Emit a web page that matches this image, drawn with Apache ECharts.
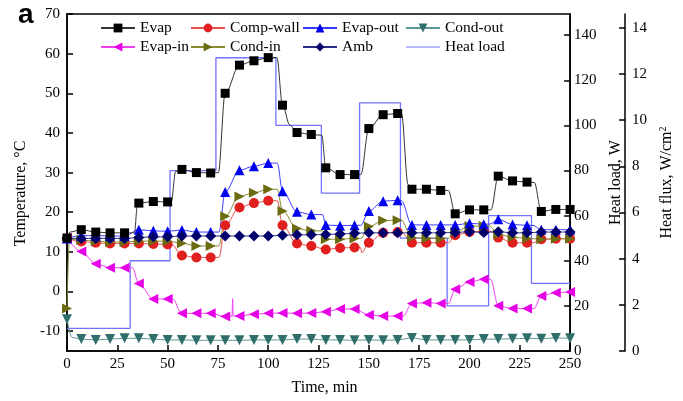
<!DOCTYPE html>
<html><head><meta charset="utf-8">
<script src="https://cdn.jsdelivr.net/npm/echarts@6/dist/echarts.min.js"></script>
<style>html,body{margin:0;padding:0;background:#fff}#c{width:683px;height:401px}</style>
</head><body><div id="c"></div><script>
// marker times (min)
const markT = [0, 7.1, 14.3, 21.4, 28.6, 35.7, 42.9, 50, 57.1, 64.3, 71.4, 78.6, 85.7, 92.9, 100, 107.1, 114.3, 121.4, 128.6, 135.7, 142.9, 150, 157.1, 164.3, 171.4, 178.6, 185.7, 192.9, 200, 207.1, 214.3, 221.4, 228.6, 235.7, 242.9, 250];
// temperatures at marker times (°C)
const evap     = [13.5, 15.6, 15.0, 14.8, 14.8, 22.3, 22.7, 22.6, 30.8, 30.0, 29.9, 50.0, 57.1, 58.2, 59.0, 47.0, 40.1, 39.6, 31.2, 29.5, 29.5, 41.1, 44.6, 44.9, 25.8, 25.8, 25.5, 19.6, 20.6, 20.6, 29.1, 27.9, 27.6, 20.2, 20.7, 20.7];
const compWall = [13.4, 12.6, 12.3, 12.1, 12.1, 12.1, 12.0, 11.9, 9.1, 8.6, 8.6, 16.7, 21.2, 22.3, 22.9, 16.7, 12.1, 11.5, 10.6, 11.0, 11.1, 12.3, 14.8, 15.0, 12.3, 12.3, 12.3, 14.2, 15.0, 15.2, 13.6, 12.3, 12.3, 13.2, 13.3, 13.3];
const evapOut  = [13.4, 14.1, 14.1, 14.0, 14.0, 15.6, 15.3, 15.2, 15.5, 15.0, 15.0, 25.1, 30.6, 31.6, 32.4, 25.3, 20.1, 19.4, 16.8, 16.6, 16.7, 20.3, 22.8, 23.0, 16.8, 16.8, 16.8, 16.8, 17.2, 17.0, 18.2, 16.9, 16.7, 15.6, 15.6, 15.6];
const condOut  = [-7.0, -12.0, -12.2, -12.0, -11.8, -11.8, -12.0, -12.2, -12.2, -12.3, -12.3, -12.3, -12.3, -12.2, -12.2, -12.2, -12.0, -12.0, -12.2, -12.2, -12.3, -12.2, -12.3, -12.2, -11.7, -12.2, -12.2, -12.2, -12.2, -12.0, -12.0, -11.9, -11.8, -11.9, -11.7, -11.8];
const evapIn   = [13.5, 10.1, 7.0, 6.0, 6.0, 2.0, -1.9, -1.9, -5.5, -5.5, -5.5, -6.3, -6.2, -5.7, -5.5, -5.4, -5.5, -5.4, -5.1, -4.4, -4.4, -5.9, -6.2, -6.2, -3.0, -2.8, -3.0, 0.6, 2.4, 3.1, -3.6, -4.3, -4.3, -1.1, -0.3, -0.1];
const condIn   = [-4.3, 13.0, 12.7, 12.5, 12.5, 12.7, 12.7, 12.7, 12.2, 11.5, 11.5, 19.0, 24.0, 24.9, 25.8, 20.3, 15.9, 15.3, 13.2, 13.2, 13.4, 16.4, 17.9, 18.0, 13.6, 13.4, 13.4, 15.0, 16.5, 16.5, 14.4, 13.7, 13.4, 13.2, 13.3, 13.3];
const amb      = [13.4, 13.4, 13.4, 13.4, 13.4, 13.6, 13.8, 13.8, 14.0, 14.0, 14.0, 14.0, 14.0, 14.0, 14.0, 14.2, 14.3, 14.3, 14.4, 14.5, 14.7, 14.8, 14.8, 14.8, 14.8, 14.8, 14.8, 14.9, 15.1, 14.9, 15.1, 14.8, 14.8, 15.0, 15.0, 15.0];
// extra line points (no marker) read from the curves around the steps: [time, value]
const evapLine     = [[1.5,15.0],[33.5,14.8],[35,21.8],[51.8,22.6],[54,30.3],[75.2,30.0],[104.3,59.0],[110.7,42.0],[126.6,39.4],[146,29.5],[166.2,44.9],[169.5,27.0],[189.5,25.5],[210.7,20.6],[232.2,27.5]];
const compWallLine = [[52,11.9],[75.5,8.6],[104.5,22.9],[145.8,11.1],[146.5,9.8],[166,15.0],[189.5,12.3],[210.5,15.2],[231.5,12.3]];
const evapOutLine  = [[75.5,15.0],[104.5,32.4],[127,19.4],[146,16.7],[166,23.0],[210,17.0],[231.5,16.7]];
const condOutLine  = [[2.5,-11.6]];
const evapInLine   = [[32.5,6.0],[52.5,-1.9],[82.0,-6.2],[82.3,-1.8],[82.6,-6.2],[167,-6.2],[189.5,-3.0],[210.5,3.1],[232,-4.3]];
const condInLine   = [[1.2,13.2],[75.5,11.5],[104.5,25.8],[127,15.3],[146,13.4],[166,18.0],[189.5,13.4],[210,16.5]];
// heat load steps
const loadT = [0, 31.4, 51.2, 74, 103.8, 126.4, 145.4, 165.7, 188.9, 209.5, 230.8, 250];
const loadW = [10, 40, 80, 130, 100, 70, 110, 50, 20, 60, 30, 30];

const FONT = "'Liberation Serif','Times New Roman',serif";
function build(vals, extra) {
  const pts = vals.map((v, i) => ({ value: [markT[i], v] }));
  extra.forEach(p => pts.push({ value: [p[0], p[1]], symbol: 'none' }));
  pts.sort((a, b) => a.value[0] - b.value[0]);
  return pts;
}
function tser(name, vals, extra, color, lineColor, symbol, size, rot) {
  return {
    name, type: 'line', data: build(vals, extra), yAxisIndex: 0,
    smooth: 0.35, smoothMonotone: 'x', showAllSymbol: true,
    symbol, symbolSize: size, symbolRotate: rot || 0,
    itemStyle: { color, borderWidth: 0 },
    lineStyle: { color: lineColor, width: 1 },
    emphasis: { disabled: true }, animation: false
  };
}
const chart = echarts.init(document.getElementById('c'), null, { renderer: 'canvas' });
const axisCommon = {
  axisLine: { show: true, onZero: false, lineStyle: { color: '#000', width: 1.5 } },
  axisTick: { show: true, inside: true, length: 6, lineStyle: { color: '#000', width: 1.5 } },
  splitLine: { show: false },
  axisLabel: { color: '#000', fontFamily: FONT, fontSize: 15 },
  nameTextStyle: { color: '#000', fontFamily: FONT, fontSize: 16 }
};
const legendBase = {
  orient: 'vertical', top: 20, padding: 0, itemWidth: 34, itemHeight: 11, itemGap: 3,
  textStyle: { color: '#000', fontFamily: FONT, fontSize: 15.5, lineHeight: 16 },
  selectedMode: false
};
chart.setOption({
  backgroundColor: '#fff',
  animation: false,
  title: { text: 'a', left: 13, top: -4, textStyle: { fontFamily: "'Liberation Sans',Arial,sans-serif", fontWeight: 'bold', fontSize: 28, color: '#000' } },
  grid: { left: 67, right: 112, top: 14, bottom: 49, show: true, borderColor: '#000', borderWidth: 1.5, backgroundColor: 'transparent' },
  legend: [
    Object.assign({}, legendBase, { left: 100, data: ['Evap', 'Evap-in'] }),
    Object.assign({}, legendBase, { left: 190, data: ['Comp-wall', 'Cond-in'] }),
    Object.assign({}, legendBase, { left: 302, data: ['Evap-out', 'Amb'] }),
    Object.assign({}, legendBase, { left: 405, data: ['Cond-out', { name: 'Heat load', icon: 'path://M0,0H40V1.1H0Z' }] })
  ],
  xAxis: Object.assign({}, axisCommon, {
    type: 'value', min: 0, max: 250, interval: 25,
    name: 'Time, min', nameLocation: 'middle', nameGap: 29,
    nameTextStyle: { color: '#000', fontFamily: FONT, fontSize: 16, padding: [0, 0, 0, 12] },
    axisLabel: Object.assign({}, axisCommon.axisLabel, { margin: 6 })
  }),
  yAxis: [
    Object.assign({}, axisCommon, {
      type: 'value', min: -15, max: 70, splitNumber: 8, position: 'left',
      name: 'Temperature, °C', nameLocation: 'middle', nameGap: 37, nameRotate: 90,
      nameTextStyle: { color: '#000', fontFamily: FONT, fontSize: 16, padding: [0, 22, 0, 0] },
      axisLabel: Object.assign({}, axisCommon.axisLabel, { margin: 7, showMinLabel: false })
    }),
    Object.assign({}, axisCommon, {
      type: 'value', min: 0, max: 149.4, interval: 20, position: 'right',
      name: 'Heat load, W', nameLocation: 'middle', nameGap: 30, nameRotate: 90,
      axisLabel: Object.assign({}, axisCommon.axisLabel, { margin: 4, showMaxLabel: false })
    }),
    Object.assign({}, axisCommon, {
      type: 'value', min: 0, max: 14.6, interval: 2, position: 'right', offset: 55,
      name: 'Heat flux, W/cm{s|2}', nameLocation: 'middle', nameGap: 25, nameRotate: 90,
      nameTextStyle: { color: '#000', fontFamily: FONT, fontSize: 16, rich: { s: { fontFamily: FONT, fontSize: 10, verticalAlign: 'top', padding: [0, 0, 8, 0] } } },
      axisLabel: Object.assign({}, axisCommon.axisLabel, { margin: 7, showMaxLabel: false })
    })
  ],
  series: [
    {
      name: 'Heat load', type: 'line', yAxisIndex: 1, step: 'end', symbol: 'none',
      data: loadT.map((t, i) => [t, loadW[i]]),
      itemStyle: { color: '#7272ff' }, lineStyle: { color: '#7272ff', width: 1.3 },
      emphasis: { disabled: true }, animation: false
    },
    tser('Cond-out', condOut, condOutLine, '#2f6e6a', '#5f9793', 'triangle', 10, 180),
    tser('Evap-in', evapIn, evapInLine, '#e600e6', '#f040f0', 'triangle', 10, 90),
    tser('Comp-wall', compWall, compWallLine, '#e01f1f', '#e85050', 'circle', 10),
    tser('Cond-in', condIn, condInLine, '#6b6b10', '#8a8a30', 'triangle', 10, -90),
    tser('Evap-out', evapOut, evapOutLine, '#0000f0', '#3a3aff', 'triangle', 10),
    tser('Amb', amb, [], '#00006b', '#2a2a8a', 'diamond', 11),
    tser('Evap', evap, evapLine, '#000000', '#333333', 'rect', 9)
  ]
});
</script></body></html>
